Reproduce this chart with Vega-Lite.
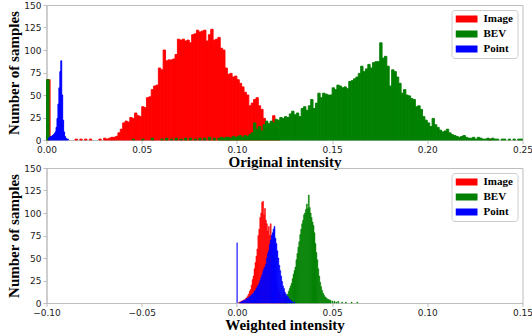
{
  "$schema": "https://vega.github.io/schema/vega-lite/v6.json",
  "background": "white",
  "padding": {"left": 5.5, "top": 0, "right": 0, "bottom": 0},
  "bounds": "flush",
  "spacing": 28,
  "datasets": {
    "orig": [
      {"series": "Image", "start": 0.0, "end": 0.0019, "count": 67},
      {"series": "Image", "start": 0.015, "end": 0.01625, "count": 1},
      {"series": "Image", "start": 0.0175, "end": 0.01875, "count": 1},
      {"series": "Image", "start": 0.02, "end": 0.02125, "count": 1},
      {"series": "Image", "start": 0.0225, "end": 0.02375, "count": 1},
      {"series": "Image", "start": 0.0275, "end": 0.02875, "count": 1},
      {"series": "Image", "start": 0.03, "end": 0.03125, "count": 2},
      {"series": "Image", "start": 0.03125, "end": 0.0325, "count": 1},
      {"series": "Image", "start": 0.0325, "end": 0.03375, "count": 2},
      {"series": "Image", "start": 0.03375, "end": 0.035, "count": 3},
      {"series": "Image", "start": 0.035, "end": 0.03625, "count": 3},
      {"series": "Image", "start": 0.03625, "end": 0.0375, "count": 4},
      {"series": "Image", "start": 0.0375, "end": 0.03875, "count": 8},
      {"series": "Image", "start": 0.03875, "end": 0.04, "count": 12},
      {"series": "Image", "start": 0.04, "end": 0.04125, "count": 19},
      {"series": "Image", "start": 0.04125, "end": 0.0425, "count": 21},
      {"series": "Image", "start": 0.0425, "end": 0.04375, "count": 20},
      {"series": "Image", "start": 0.04375, "end": 0.045, "count": 25},
      {"series": "Image", "start": 0.045, "end": 0.04625, "count": 24},
      {"series": "Image", "start": 0.04625, "end": 0.0475, "count": 30},
      {"series": "Image", "start": 0.0475, "end": 0.04875, "count": 27},
      {"series": "Image", "start": 0.04875, "end": 0.05, "count": 26},
      {"series": "Image", "start": 0.05, "end": 0.05125, "count": 37},
      {"series": "Image", "start": 0.05125, "end": 0.0525, "count": 36},
      {"series": "Image", "start": 0.0525, "end": 0.05375, "count": 47},
      {"series": "Image", "start": 0.05375, "end": 0.055, "count": 48},
      {"series": "Image", "start": 0.055, "end": 0.05625, "count": 56},
      {"series": "Image", "start": 0.05625, "end": 0.0575, "count": 60},
      {"series": "Image", "start": 0.0575, "end": 0.05875, "count": 61},
      {"series": "Image", "start": 0.05875, "end": 0.06, "count": 80},
      {"series": "Image", "start": 0.06, "end": 0.06125, "count": 78},
      {"series": "Image", "start": 0.06125, "end": 0.0625, "count": 100},
      {"series": "Image", "start": 0.0625, "end": 0.06375, "count": 88},
      {"series": "Image", "start": 0.06375, "end": 0.065, "count": 89},
      {"series": "Image", "start": 0.065, "end": 0.06625, "count": 89},
      {"series": "Image", "start": 0.06625, "end": 0.0675, "count": 90},
      {"series": "Image", "start": 0.0675, "end": 0.06875, "count": 95},
      {"series": "Image", "start": 0.06875, "end": 0.07, "count": 112},
      {"series": "Image", "start": 0.07, "end": 0.07125, "count": 111},
      {"series": "Image", "start": 0.07125, "end": 0.0725, "count": 112},
      {"series": "Image", "start": 0.0725, "end": 0.07375, "count": 110},
      {"series": "Image", "start": 0.07375, "end": 0.075, "count": 111},
      {"series": "Image", "start": 0.075, "end": 0.07625, "count": 108},
      {"series": "Image", "start": 0.07625, "end": 0.0775, "count": 117},
      {"series": "Image", "start": 0.0775, "end": 0.07875, "count": 118},
      {"series": "Image", "start": 0.07875, "end": 0.08, "count": 122},
      {"series": "Image", "start": 0.08, "end": 0.08125, "count": 120},
      {"series": "Image", "start": 0.08125, "end": 0.0825, "count": 121},
      {"series": "Image", "start": 0.0825, "end": 0.08375, "count": 122},
      {"series": "Image", "start": 0.08375, "end": 0.085, "count": 110},
      {"series": "Image", "start": 0.085, "end": 0.08625, "count": 117},
      {"series": "Image", "start": 0.08625, "end": 0.0875, "count": 123},
      {"series": "Image", "start": 0.0875, "end": 0.08875, "count": 111},
      {"series": "Image", "start": 0.08875, "end": 0.09, "count": 112},
      {"series": "Image", "start": 0.09, "end": 0.09125, "count": 114},
      {"series": "Image", "start": 0.09125, "end": 0.0925, "count": 102},
      {"series": "Image", "start": 0.0925, "end": 0.09375, "count": 100},
      {"series": "Image", "start": 0.09375, "end": 0.095, "count": 80},
      {"series": "Image", "start": 0.095, "end": 0.09625, "count": 73},
      {"series": "Image", "start": 0.09625, "end": 0.0975, "count": 74},
      {"series": "Image", "start": 0.0975, "end": 0.09875, "count": 70},
      {"series": "Image", "start": 0.09875, "end": 0.1, "count": 71},
      {"series": "Image", "start": 0.1, "end": 0.10125, "count": 67},
      {"series": "Image", "start": 0.10125, "end": 0.1025, "count": 63},
      {"series": "Image", "start": 0.1025, "end": 0.10375, "count": 59},
      {"series": "Image", "start": 0.10375, "end": 0.105, "count": 53},
      {"series": "Image", "start": 0.105, "end": 0.10625, "count": 50},
      {"series": "Image", "start": 0.10625, "end": 0.1075, "count": 38},
      {"series": "Image", "start": 0.1075, "end": 0.10875, "count": 41},
      {"series": "Image", "start": 0.10875, "end": 0.11, "count": 45},
      {"series": "Image", "start": 0.11, "end": 0.11125, "count": 47},
      {"series": "Image", "start": 0.11125, "end": 0.1125, "count": 38},
      {"series": "Image", "start": 0.1125, "end": 0.11375, "count": 34},
      {"series": "Image", "start": 0.11375, "end": 0.115, "count": 24},
      {"series": "Image", "start": 0.115, "end": 0.11625, "count": 19},
      {"series": "Image", "start": 0.11625, "end": 0.1175, "count": 14},
      {"series": "Image", "start": 0.1175, "end": 0.11875, "count": 20},
      {"series": "Image", "start": 0.11875, "end": 0.12, "count": 27},
      {"series": "Image", "start": 0.12, "end": 0.12125, "count": 10},
      {"series": "Image", "start": 0.12125, "end": 0.1225, "count": 3},
      {"series": "Image", "start": 0.2325, "end": 0.23375, "count": 1},
      {"series": "BEV", "start": 0.0, "end": 0.00135, "count": 67},
      {"series": "BEV", "start": 0.045, "end": 0.04625, "count": 1},
      {"series": "BEV", "start": 0.05, "end": 0.05125, "count": 1},
      {"series": "BEV", "start": 0.055, "end": 0.05625, "count": 2},
      {"series": "BEV", "start": 0.06, "end": 0.06125, "count": 1},
      {"series": "BEV", "start": 0.0625, "end": 0.06375, "count": 2},
      {"series": "BEV", "start": 0.065, "end": 0.06625, "count": 1},
      {"series": "BEV", "start": 0.0675, "end": 0.06875, "count": 2},
      {"series": "BEV", "start": 0.07, "end": 0.07125, "count": 1},
      {"series": "BEV", "start": 0.0725, "end": 0.07375, "count": 2},
      {"series": "BEV", "start": 0.075, "end": 0.07625, "count": 2},
      {"series": "BEV", "start": 0.0775, "end": 0.07875, "count": 1},
      {"series": "BEV", "start": 0.08, "end": 0.08125, "count": 2},
      {"series": "BEV", "start": 0.0825, "end": 0.08375, "count": 2},
      {"series": "BEV", "start": 0.085, "end": 0.08625, "count": 3},
      {"series": "BEV", "start": 0.0875, "end": 0.08875, "count": 2},
      {"series": "BEV", "start": 0.09, "end": 0.09125, "count": 2},
      {"series": "BEV", "start": 0.09125, "end": 0.0925, "count": 3},
      {"series": "BEV", "start": 0.0925, "end": 0.09375, "count": 2},
      {"series": "BEV", "start": 0.09375, "end": 0.095, "count": 3},
      {"series": "BEV", "start": 0.095, "end": 0.09625, "count": 3},
      {"series": "BEV", "start": 0.09625, "end": 0.0975, "count": 2},
      {"series": "BEV", "start": 0.0975, "end": 0.09875, "count": 4},
      {"series": "BEV", "start": 0.09875, "end": 0.1, "count": 3},
      {"series": "BEV", "start": 0.1, "end": 0.10125, "count": 4},
      {"series": "BEV", "start": 0.10125, "end": 0.1025, "count": 5},
      {"series": "BEV", "start": 0.1025, "end": 0.10375, "count": 3},
      {"series": "BEV", "start": 0.10375, "end": 0.105, "count": 5},
      {"series": "BEV", "start": 0.105, "end": 0.10625, "count": 4},
      {"series": "BEV", "start": 0.10625, "end": 0.1075, "count": 6},
      {"series": "BEV", "start": 0.1075, "end": 0.10875, "count": 8},
      {"series": "BEV", "start": 0.10875, "end": 0.11, "count": 19},
      {"series": "BEV", "start": 0.11, "end": 0.11125, "count": 12},
      {"series": "BEV", "start": 0.11125, "end": 0.1125, "count": 15},
      {"series": "BEV", "start": 0.1125, "end": 0.11375, "count": 10},
      {"series": "BEV", "start": 0.11375, "end": 0.115, "count": 17},
      {"series": "BEV", "start": 0.115, "end": 0.11625, "count": 21},
      {"series": "BEV", "start": 0.11625, "end": 0.1175, "count": 18},
      {"series": "BEV", "start": 0.1175, "end": 0.11875, "count": 21},
      {"series": "BEV", "start": 0.11875, "end": 0.12, "count": 19},
      {"series": "BEV", "start": 0.12, "end": 0.12125, "count": 23},
      {"series": "BEV", "start": 0.12125, "end": 0.1225, "count": 22},
      {"series": "BEV", "start": 0.1225, "end": 0.12375, "count": 25},
      {"series": "BEV", "start": 0.12375, "end": 0.125, "count": 24},
      {"series": "BEV", "start": 0.125, "end": 0.12625, "count": 26},
      {"series": "BEV", "start": 0.12625, "end": 0.1275, "count": 25},
      {"series": "BEV", "start": 0.1275, "end": 0.12875, "count": 29},
      {"series": "BEV", "start": 0.12875, "end": 0.13, "count": 32},
      {"series": "BEV", "start": 0.13, "end": 0.13125, "count": 28},
      {"series": "BEV", "start": 0.13125, "end": 0.1325, "count": 30},
      {"series": "BEV", "start": 0.1325, "end": 0.13375, "count": 26},
      {"series": "BEV", "start": 0.13375, "end": 0.135, "count": 35},
      {"series": "BEV", "start": 0.135, "end": 0.13625, "count": 37},
      {"series": "BEV", "start": 0.13625, "end": 0.1375, "count": 33},
      {"series": "BEV", "start": 0.1375, "end": 0.13875, "count": 38},
      {"series": "BEV", "start": 0.13875, "end": 0.14, "count": 45},
      {"series": "BEV", "start": 0.14, "end": 0.14125, "count": 35},
      {"series": "BEV", "start": 0.14125, "end": 0.1425, "count": 41},
      {"series": "BEV", "start": 0.1425, "end": 0.14375, "count": 52},
      {"series": "BEV", "start": 0.14375, "end": 0.145, "count": 47},
      {"series": "BEV", "start": 0.145, "end": 0.14625, "count": 52},
      {"series": "BEV", "start": 0.14625, "end": 0.1475, "count": 51},
      {"series": "BEV", "start": 0.1475, "end": 0.14875, "count": 50},
      {"series": "BEV", "start": 0.14875, "end": 0.15, "count": 50},
      {"series": "BEV", "start": 0.15, "end": 0.15125, "count": 58},
      {"series": "BEV", "start": 0.15125, "end": 0.1525, "count": 56},
      {"series": "BEV", "start": 0.1525, "end": 0.15375, "count": 61},
      {"series": "BEV", "start": 0.15375, "end": 0.155, "count": 60},
      {"series": "BEV", "start": 0.155, "end": 0.15625, "count": 58},
      {"series": "BEV", "start": 0.15625, "end": 0.1575, "count": 59},
      {"series": "BEV", "start": 0.1575, "end": 0.15875, "count": 57},
      {"series": "BEV", "start": 0.15875, "end": 0.16, "count": 65},
      {"series": "BEV", "start": 0.16, "end": 0.16125, "count": 66},
      {"series": "BEV", "start": 0.16125, "end": 0.1625, "count": 68},
      {"series": "BEV", "start": 0.1625, "end": 0.16375, "count": 70},
      {"series": "BEV", "start": 0.16375, "end": 0.165, "count": 74},
      {"series": "BEV", "start": 0.165, "end": 0.16625, "count": 82},
      {"series": "BEV", "start": 0.16625, "end": 0.1675, "count": 76},
      {"series": "BEV", "start": 0.1675, "end": 0.16875, "count": 79},
      {"series": "BEV", "start": 0.16875, "end": 0.17, "count": 84},
      {"series": "BEV", "start": 0.17, "end": 0.17125, "count": 80},
      {"series": "BEV", "start": 0.17125, "end": 0.1725, "count": 86},
      {"series": "BEV", "start": 0.1725, "end": 0.17375, "count": 87},
      {"series": "BEV", "start": 0.17375, "end": 0.175, "count": 87},
      {"series": "BEV", "start": 0.175, "end": 0.17625, "count": 108},
      {"series": "BEV", "start": 0.17625, "end": 0.1775, "count": 91},
      {"series": "BEV", "start": 0.1775, "end": 0.17875, "count": 93},
      {"series": "BEV", "start": 0.17875, "end": 0.18, "count": 82},
      {"series": "BEV", "start": 0.18, "end": 0.18125, "count": 60},
      {"series": "BEV", "start": 0.18125, "end": 0.1825, "count": 78},
      {"series": "BEV", "start": 0.1825, "end": 0.18375, "count": 76},
      {"series": "BEV", "start": 0.18375, "end": 0.185, "count": 70},
      {"series": "BEV", "start": 0.185, "end": 0.18625, "count": 63},
      {"series": "BEV", "start": 0.18625, "end": 0.1875, "count": 52},
      {"series": "BEV", "start": 0.1875, "end": 0.18875, "count": 56},
      {"series": "BEV", "start": 0.18875, "end": 0.19, "count": 50},
      {"series": "BEV", "start": 0.19, "end": 0.19125, "count": 49},
      {"series": "BEV", "start": 0.19125, "end": 0.1925, "count": 46},
      {"series": "BEV", "start": 0.1925, "end": 0.19375, "count": 45},
      {"series": "BEV", "start": 0.19375, "end": 0.195, "count": 37},
      {"series": "BEV", "start": 0.195, "end": 0.19625, "count": 38},
      {"series": "BEV", "start": 0.19625, "end": 0.1975, "count": 34},
      {"series": "BEV", "start": 0.1975, "end": 0.19875, "count": 26},
      {"series": "BEV", "start": 0.19875, "end": 0.2, "count": 22},
      {"series": "BEV", "start": 0.2, "end": 0.20125, "count": 19},
      {"series": "BEV", "start": 0.20125, "end": 0.2025, "count": 15},
      {"series": "BEV", "start": 0.2025, "end": 0.20375, "count": 24},
      {"series": "BEV", "start": 0.20375, "end": 0.205, "count": 17},
      {"series": "BEV", "start": 0.205, "end": 0.20625, "count": 14},
      {"series": "BEV", "start": 0.20625, "end": 0.2075, "count": 11},
      {"series": "BEV", "start": 0.2075, "end": 0.20875, "count": 9},
      {"series": "BEV", "start": 0.20875, "end": 0.21, "count": 10},
      {"series": "BEV", "start": 0.21, "end": 0.21125, "count": 12},
      {"series": "BEV", "start": 0.21125, "end": 0.2125, "count": 8},
      {"series": "BEV", "start": 0.2125, "end": 0.21375, "count": 6},
      {"series": "BEV", "start": 0.21375, "end": 0.215, "count": 5},
      {"series": "BEV", "start": 0.215, "end": 0.21625, "count": 4},
      {"series": "BEV", "start": 0.21625, "end": 0.2175, "count": 3},
      {"series": "BEV", "start": 0.2175, "end": 0.21875, "count": 4},
      {"series": "BEV", "start": 0.21875, "end": 0.22, "count": 5},
      {"series": "BEV", "start": 0.22, "end": 0.22125, "count": 3},
      {"series": "BEV", "start": 0.22125, "end": 0.2225, "count": 2},
      {"series": "BEV", "start": 0.2225, "end": 0.22375, "count": 2},
      {"series": "BEV", "start": 0.22375, "end": 0.225, "count": 3},
      {"series": "BEV", "start": 0.225, "end": 0.22625, "count": 1},
      {"series": "BEV", "start": 0.22625, "end": 0.2275, "count": 3},
      {"series": "BEV", "start": 0.2275, "end": 0.22875, "count": 2},
      {"series": "BEV", "start": 0.22875, "end": 0.23, "count": 1},
      {"series": "BEV", "start": 0.23, "end": 0.23125, "count": 1},
      {"series": "BEV", "start": 0.23125, "end": 0.2325, "count": 2},
      {"series": "BEV", "start": 0.2325, "end": 0.23375, "count": 1},
      {"series": "BEV", "start": 0.23375, "end": 0.235, "count": 2},
      {"series": "BEV", "start": 0.235, "end": 0.23625, "count": 1},
      {"series": "BEV", "start": 0.23625, "end": 0.2375, "count": 1},
      {"series": "BEV", "start": 0.23875, "end": 0.24, "count": 1},
      {"series": "BEV", "start": 0.24, "end": 0.24125, "count": 1},
      {"series": "BEV", "start": 0.2425, "end": 0.24375, "count": 1},
      {"series": "BEV", "start": 0.245, "end": 0.24625, "count": 1},
      {"series": "BEV", "start": 0.2475, "end": 0.24875, "count": 1},
      {"series": "BEV", "start": 0.24875, "end": 0.25, "count": 1},
      {"series": "Point", "start": 0.001, "end": 0.0015, "count": 2},
      {"series": "Point", "start": 0.0015, "end": 0.002, "count": 3},
      {"series": "Point", "start": 0.002, "end": 0.0025, "count": 4},
      {"series": "Point", "start": 0.0025, "end": 0.003, "count": 4},
      {"series": "Point", "start": 0.003, "end": 0.0035, "count": 5},
      {"series": "Point", "start": 0.0035, "end": 0.004, "count": 6},
      {"series": "Point", "start": 0.004, "end": 0.0045, "count": 7},
      {"series": "Point", "start": 0.0045, "end": 0.005, "count": 9},
      {"series": "Point", "start": 0.005, "end": 0.0055, "count": 14},
      {"series": "Point", "start": 0.0055, "end": 0.006, "count": 24},
      {"series": "Point", "start": 0.006, "end": 0.0065, "count": 40},
      {"series": "Point", "start": 0.0065, "end": 0.007, "count": 58},
      {"series": "Point", "start": 0.007, "end": 0.0075, "count": 76},
      {"series": "Point", "start": 0.0075, "end": 0.008, "count": 88},
      {"series": "Point", "start": 0.008, "end": 0.0085, "count": 50},
      {"series": "Point", "start": 0.0085, "end": 0.009, "count": 22},
      {"series": "Point", "start": 0.009, "end": 0.0095, "count": 9},
      {"series": "Point", "start": 0.0095, "end": 0.01, "count": 4},
      {"series": "Point", "start": 0.01, "end": 0.0105, "count": 2},
      {"series": "Point", "start": 0.0105, "end": 0.011, "count": 1},
      {"series": "Point", "start": 0.011, "end": 0.0115, "count": 1}
    ],
    "weighted": [
      {"series": "Image", "start": 0.001, "end": 0.0015, "count": 1},
      {"series": "Image", "start": 0.0015, "end": 0.002, "count": 1},
      {"series": "Image", "start": 0.002, "end": 0.0025, "count": 2},
      {"series": "Image", "start": 0.0025, "end": 0.003, "count": 2},
      {"series": "Image", "start": 0.003, "end": 0.0035, "count": 3},
      {"series": "Image", "start": 0.0035, "end": 0.004, "count": 3},
      {"series": "Image", "start": 0.004, "end": 0.0045, "count": 4},
      {"series": "Image", "start": 0.0045, "end": 0.005, "count": 5},
      {"series": "Image", "start": 0.005, "end": 0.0055, "count": 6},
      {"series": "Image", "start": 0.0055, "end": 0.006, "count": 8},
      {"series": "Image", "start": 0.006, "end": 0.0065, "count": 10},
      {"series": "Image", "start": 0.0065, "end": 0.007, "count": 13},
      {"series": "Image", "start": 0.007, "end": 0.0075, "count": 15},
      {"series": "Image", "start": 0.0075, "end": 0.008, "count": 20},
      {"series": "Image", "start": 0.008, "end": 0.0085, "count": 26},
      {"series": "Image", "start": 0.0085, "end": 0.009, "count": 30},
      {"series": "Image", "start": 0.009, "end": 0.0095, "count": 38},
      {"series": "Image", "start": 0.0095, "end": 0.01, "count": 45},
      {"series": "Image", "start": 0.01, "end": 0.0105, "count": 52},
      {"series": "Image", "start": 0.0105, "end": 0.011, "count": 60},
      {"series": "Image", "start": 0.011, "end": 0.0115, "count": 75},
      {"series": "Image", "start": 0.0115, "end": 0.012, "count": 82},
      {"series": "Image", "start": 0.012, "end": 0.0125, "count": 95},
      {"series": "Image", "start": 0.0125, "end": 0.013, "count": 100},
      {"series": "Image", "start": 0.013, "end": 0.0135, "count": 112},
      {"series": "Image", "start": 0.0135, "end": 0.014, "count": 113},
      {"series": "Image", "start": 0.014, "end": 0.0145, "count": 98},
      {"series": "Image", "start": 0.0145, "end": 0.015, "count": 105},
      {"series": "Image", "start": 0.015, "end": 0.0155, "count": 92},
      {"series": "Image", "start": 0.0155, "end": 0.016, "count": 88},
      {"series": "Image", "start": 0.016, "end": 0.0165, "count": 80},
      {"series": "Image", "start": 0.0165, "end": 0.017, "count": 85},
      {"series": "Image", "start": 0.017, "end": 0.0175, "count": 75},
      {"series": "Image", "start": 0.0175, "end": 0.018, "count": 88},
      {"series": "Image", "start": 0.018, "end": 0.0185, "count": 70},
      {"series": "Image", "start": 0.0185, "end": 0.019, "count": 60},
      {"series": "Image", "start": 0.019, "end": 0.0195, "count": 50},
      {"series": "Image", "start": 0.0195, "end": 0.02, "count": 42},
      {"series": "Image", "start": 0.02, "end": 0.0205, "count": 33},
      {"series": "Image", "start": 0.0205, "end": 0.021, "count": 27},
      {"series": "Image", "start": 0.021, "end": 0.0215, "count": 20},
      {"series": "Image", "start": 0.0215, "end": 0.022, "count": 15},
      {"series": "Image", "start": 0.022, "end": 0.0225, "count": 12},
      {"series": "Image", "start": 0.0225, "end": 0.023, "count": 9},
      {"series": "Image", "start": 0.023, "end": 0.0235, "count": 6},
      {"series": "Image", "start": 0.0235, "end": 0.024, "count": 5},
      {"series": "Image", "start": 0.024, "end": 0.0245, "count": 8},
      {"series": "Image", "start": 0.0245, "end": 0.025, "count": 12},
      {"series": "Image", "start": 0.025, "end": 0.0255, "count": 6},
      {"series": "Image", "start": 0.0255, "end": 0.026, "count": 3},
      {"series": "Image", "start": 0.026, "end": 0.0265, "count": 2},
      {"series": "BEV", "start": 0.0225, "end": 0.023, "count": 1},
      {"series": "BEV", "start": 0.0235, "end": 0.024, "count": 2},
      {"series": "BEV", "start": 0.0245, "end": 0.025, "count": 3},
      {"series": "BEV", "start": 0.025, "end": 0.0255, "count": 4},
      {"series": "BEV", "start": 0.0255, "end": 0.026, "count": 6},
      {"series": "BEV", "start": 0.026, "end": 0.0265, "count": 8},
      {"series": "BEV", "start": 0.0265, "end": 0.027, "count": 10},
      {"series": "BEV", "start": 0.027, "end": 0.0275, "count": 13},
      {"series": "BEV", "start": 0.0275, "end": 0.028, "count": 16},
      {"series": "BEV", "start": 0.028, "end": 0.0285, "count": 19},
      {"series": "BEV", "start": 0.0285, "end": 0.029, "count": 22},
      {"series": "BEV", "start": 0.029, "end": 0.0295, "count": 27},
      {"series": "BEV", "start": 0.0295, "end": 0.03, "count": 32},
      {"series": "BEV", "start": 0.03, "end": 0.0305, "count": 36},
      {"series": "BEV", "start": 0.0305, "end": 0.031, "count": 40},
      {"series": "BEV", "start": 0.031, "end": 0.0315, "count": 48},
      {"series": "BEV", "start": 0.0315, "end": 0.032, "count": 55},
      {"series": "BEV", "start": 0.032, "end": 0.0325, "count": 62},
      {"series": "BEV", "start": 0.0325, "end": 0.033, "count": 68},
      {"series": "BEV", "start": 0.033, "end": 0.0335, "count": 76},
      {"series": "BEV", "start": 0.0335, "end": 0.034, "count": 82},
      {"series": "BEV", "start": 0.034, "end": 0.0345, "count": 88},
      {"series": "BEV", "start": 0.0345, "end": 0.035, "count": 92},
      {"series": "BEV", "start": 0.035, "end": 0.0355, "count": 98},
      {"series": "BEV", "start": 0.0355, "end": 0.036, "count": 100},
      {"series": "BEV", "start": 0.036, "end": 0.0365, "count": 104},
      {"series": "BEV", "start": 0.0365, "end": 0.037, "count": 110},
      {"series": "BEV", "start": 0.037, "end": 0.0375, "count": 105},
      {"series": "BEV", "start": 0.0375, "end": 0.038, "count": 120},
      {"series": "BEV", "start": 0.038, "end": 0.0385, "count": 106},
      {"series": "BEV", "start": 0.0385, "end": 0.039, "count": 100},
      {"series": "BEV", "start": 0.039, "end": 0.0395, "count": 95},
      {"series": "BEV", "start": 0.0395, "end": 0.04, "count": 90},
      {"series": "BEV", "start": 0.04, "end": 0.0405, "count": 86},
      {"series": "BEV", "start": 0.0405, "end": 0.041, "count": 78},
      {"series": "BEV", "start": 0.041, "end": 0.0415, "count": 66},
      {"series": "BEV", "start": 0.0415, "end": 0.042, "count": 56},
      {"series": "BEV", "start": 0.042, "end": 0.0425, "count": 48},
      {"series": "BEV", "start": 0.0425, "end": 0.043, "count": 38},
      {"series": "BEV", "start": 0.043, "end": 0.0435, "count": 30},
      {"series": "BEV", "start": 0.0435, "end": 0.044, "count": 23},
      {"series": "BEV", "start": 0.044, "end": 0.0445, "count": 18},
      {"series": "BEV", "start": 0.0445, "end": 0.045, "count": 14},
      {"series": "BEV", "start": 0.045, "end": 0.0455, "count": 11},
      {"series": "BEV", "start": 0.0455, "end": 0.046, "count": 9},
      {"series": "BEV", "start": 0.046, "end": 0.0465, "count": 7},
      {"series": "BEV", "start": 0.0465, "end": 0.047, "count": 6},
      {"series": "BEV", "start": 0.047, "end": 0.0475, "count": 5},
      {"series": "BEV", "start": 0.0475, "end": 0.048, "count": 4},
      {"series": "BEV", "start": 0.048, "end": 0.0485, "count": 4},
      {"series": "BEV", "start": 0.0485, "end": 0.049, "count": 3},
      {"series": "BEV", "start": 0.049, "end": 0.0495, "count": 3},
      {"series": "BEV", "start": 0.05, "end": 0.0505, "count": 2},
      {"series": "BEV", "start": 0.051, "end": 0.0515, "count": 2},
      {"series": "BEV", "start": 0.052, "end": 0.0525, "count": 1},
      {"series": "BEV", "start": 0.053, "end": 0.0535, "count": 2},
      {"series": "BEV", "start": 0.055, "end": 0.0555, "count": 1},
      {"series": "BEV", "start": 0.057, "end": 0.0575, "count": 1},
      {"series": "BEV", "start": 0.06, "end": 0.0605, "count": 1},
      {"series": "BEV", "start": 0.063, "end": 0.0635, "count": 1},
      {"series": "Point", "start": 0.0, "end": 0.0002, "count": 67},
      {"series": "Point", "start": 0.0015, "end": 0.002, "count": 1},
      {"series": "Point", "start": 0.002, "end": 0.0025, "count": 1},
      {"series": "Point", "start": 0.0025, "end": 0.003, "count": 2},
      {"series": "Point", "start": 0.003, "end": 0.0035, "count": 2},
      {"series": "Point", "start": 0.0035, "end": 0.004, "count": 3},
      {"series": "Point", "start": 0.004, "end": 0.0045, "count": 3},
      {"series": "Point", "start": 0.0045, "end": 0.005, "count": 4},
      {"series": "Point", "start": 0.005, "end": 0.0055, "count": 5},
      {"series": "Point", "start": 0.0055, "end": 0.006, "count": 5},
      {"series": "Point", "start": 0.006, "end": 0.0065, "count": 6},
      {"series": "Point", "start": 0.0065, "end": 0.007, "count": 7},
      {"series": "Point", "start": 0.007, "end": 0.0075, "count": 8},
      {"series": "Point", "start": 0.0075, "end": 0.008, "count": 9},
      {"series": "Point", "start": 0.008, "end": 0.0085, "count": 10},
      {"series": "Point", "start": 0.0085, "end": 0.009, "count": 11},
      {"series": "Point", "start": 0.009, "end": 0.0095, "count": 13},
      {"series": "Point", "start": 0.0095, "end": 0.01, "count": 14},
      {"series": "Point", "start": 0.01, "end": 0.0105, "count": 16},
      {"series": "Point", "start": 0.0105, "end": 0.011, "count": 18},
      {"series": "Point", "start": 0.011, "end": 0.0115, "count": 20},
      {"series": "Point", "start": 0.0115, "end": 0.012, "count": 22},
      {"series": "Point", "start": 0.012, "end": 0.0125, "count": 25},
      {"series": "Point", "start": 0.0125, "end": 0.013, "count": 28},
      {"series": "Point", "start": 0.013, "end": 0.0135, "count": 31},
      {"series": "Point", "start": 0.0135, "end": 0.014, "count": 35},
      {"series": "Point", "start": 0.014, "end": 0.0145, "count": 38},
      {"series": "Point", "start": 0.0145, "end": 0.015, "count": 40},
      {"series": "Point", "start": 0.015, "end": 0.0155, "count": 43},
      {"series": "Point", "start": 0.0155, "end": 0.016, "count": 50},
      {"series": "Point", "start": 0.016, "end": 0.0165, "count": 55},
      {"series": "Point", "start": 0.0165, "end": 0.017, "count": 58},
      {"series": "Point", "start": 0.017, "end": 0.0175, "count": 65},
      {"series": "Point", "start": 0.0175, "end": 0.018, "count": 70},
      {"series": "Point", "start": 0.018, "end": 0.0185, "count": 75},
      {"series": "Point", "start": 0.0185, "end": 0.019, "count": 78},
      {"series": "Point", "start": 0.019, "end": 0.0195, "count": 82},
      {"series": "Point", "start": 0.0195, "end": 0.02, "count": 85},
      {"series": "Point", "start": 0.02, "end": 0.0205, "count": 72},
      {"series": "Point", "start": 0.0205, "end": 0.021, "count": 66},
      {"series": "Point", "start": 0.021, "end": 0.0215, "count": 58},
      {"series": "Point", "start": 0.0215, "end": 0.022, "count": 50},
      {"series": "Point", "start": 0.022, "end": 0.0225, "count": 42},
      {"series": "Point", "start": 0.0225, "end": 0.023, "count": 36},
      {"series": "Point", "start": 0.023, "end": 0.0235, "count": 30},
      {"series": "Point", "start": 0.0235, "end": 0.024, "count": 24},
      {"series": "Point", "start": 0.024, "end": 0.0245, "count": 19},
      {"series": "Point", "start": 0.0245, "end": 0.025, "count": 16},
      {"series": "Point", "start": 0.025, "end": 0.0255, "count": 12},
      {"series": "Point", "start": 0.0255, "end": 0.026, "count": 10},
      {"series": "Point", "start": 0.026, "end": 0.0265, "count": 8},
      {"series": "Point", "start": 0.0265, "end": 0.027, "count": 7},
      {"series": "Point", "start": 0.027, "end": 0.0275, "count": 5},
      {"series": "Point", "start": 0.0275, "end": 0.028, "count": 4},
      {"series": "Point", "start": 0.028, "end": 0.0285, "count": 3},
      {"series": "Point", "start": 0.0285, "end": 0.029, "count": 2},
      {"series": "Point", "start": 0.029, "end": 0.0295, "count": 1},
      {"series": "Point", "start": 0.03, "end": 0.0305, "count": 1}
    ]
  },
  "vconcat": [
    {
      "width": 476,
      "height": 135,
      "data": {"name": "orig"},
      "mark": {"type": "bar", "strokeWidth": 0.9},
      "encoding": {
        "x": {"field": "start", "type": "quantitative", "scale": {"domain": [0, 0.25], "nice": false, "zero": false, "padding": 0},
              "axis": {"values": [0, 0.05, 0.1, 0.15, 0.2, 0.25], "format": ".2f", "title": "Original intensity"}},
        "x2": {"field": "end"},
        "y": {"field": "count", "type": "quantitative", "stack": null, "scale": {"domain": [0, 150], "nice": false},
              "axis": {"values": [0, 25, 50, 75, 100, 125, 150], "title": "Number of samples"}},
        "y2": {"datum": 0},
        "color": {"field": "series", "type": "nominal", "scale": {"domain": ["Image", "BEV", "Point"], "range": ["#ff0000", "#008000", "#0000ff"]}},
        "stroke": {"field": "series", "type": "nominal", "scale": {"domain": ["Image", "BEV", "Point"], "range": ["#ff0000", "#008000", "#0000ff"]}}
      }
    },
    {
      "width": 476,
      "height": 135,
      "data": {"name": "weighted"},
      "mark": {"type": "bar", "strokeWidth": 0.5},
      "encoding": {
        "x": {"field": "start", "type": "quantitative", "scale": {"domain": [-0.1, 0.15], "nice": false, "zero": false, "padding": 0},
              "axis": {"values": [-0.1, -0.05, 0, 0.05, 0.1, 0.15], "format": ".2f", "title": "Weighted intensity"}},
        "x2": {"field": "end"},
        "y": {"field": "count", "type": "quantitative", "stack": null, "scale": {"domain": [0, 150], "nice": false},
              "axis": {"values": [0, 25, 50, 75, 100, 125, 150], "title": "Number of samples"}},
        "y2": {"datum": 0},
        "color": {"field": "series", "type": "nominal", "scale": {"domain": ["Image", "BEV", "Point"], "range": ["#ff0000", "#008000", "#0000ff"]}},
        "stroke": {"field": "series", "type": "nominal", "scale": {"domain": ["Image", "BEV", "Point"], "range": ["#ff0000", "#008000", "#0000ff"]}}
      }
    }
  ],
  "resolve": {"scale": {"color": "independent", "stroke": "independent"}, "legend": {"color": "independent", "stroke": "independent"}},
  "config": {
    "view": {"stroke": "#bdbdbd", "strokeWidth": 1},
    "axis": {
      "grid": false, "labelFlush": false,
      "labelFont": "DejaVu Sans", "labelFontSize": 9, "labelColor": "#222222", "labelPadding": 2,
      "domainColor": "#bdbdbd", "tickColor": "#bdbdbd", "tickSize": 3.5,
      "titleFont": "Liberation Serif", "titleFontSize": 15, "titleFontWeight": "bold", "titleColor": "#000000", "titlePadding": 2
    },
    "axisX": {"titlePadding": 0},
    "legend": {
      "title": null, "orient": "top-right", "offset": 5,
      "symbolType": "M-1,-0.32H1V0.32H-1Z", "symbolSize": 484, "clipHeight": 10, "symbolStrokeWidth": 0,
      "rowPadding": 4, "labelFont": "Liberation Serif", "labelFontWeight": "bold", "labelFontSize": 11,
      "labelColor": "#000000", "labelOffset": 6, "padding": 4, "strokeColor": "#cccccc", "fillColor": "#ffffff", "cornerRadius": 3
    }
  }
}
